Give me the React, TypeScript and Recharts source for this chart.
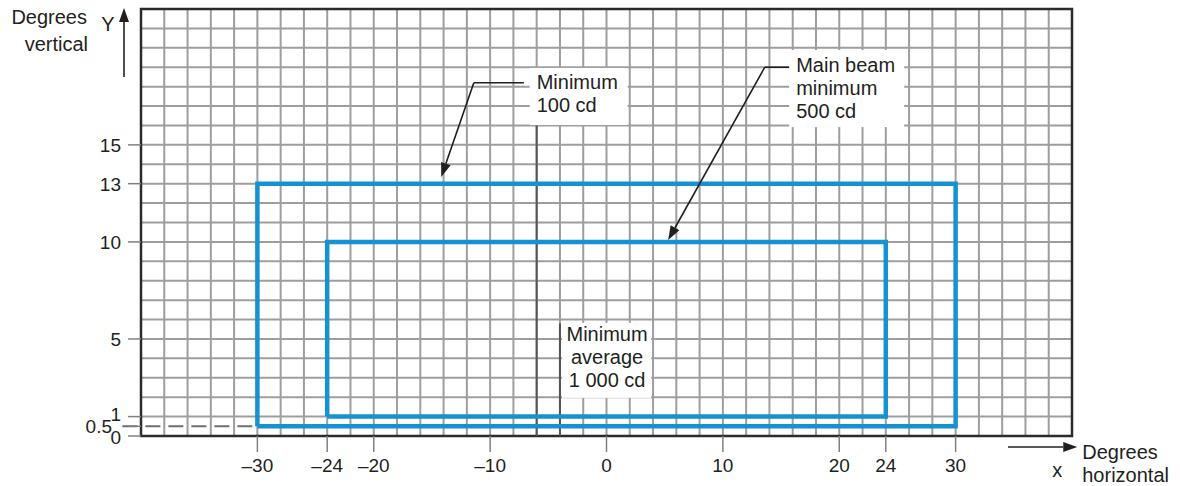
import React from 'react'
import {
  ComposedChart, Line, XAxis, YAxis, CartesianGrid,
  ReferenceLine, ReferenceDot, ReferenceArea,
} from 'recharts'

// ─── Tokens ──────────────────────────────────────────────────────────────────
const FONT = '"Liberation Sans", Arial, sans-serif'
const INK = '#231f20'
const BLUE = '#1592d1'
const GRID = '#9e9e9e'
const DARK = '#555555'

// ─── Data ────────────────────────────────────────────────────────────────────
const X_DOMAIN = [-40, 40]
const Y_DOMAIN = [0, 22]
const X_TICKS = [-30, -24, -20, -10, 0, 10, 20, 24, 30]
const Y_TICKS = [0, 0.5, 1, 5, 10, 13, 15]

// grid every 2° horizontally, every 1° vertically
const X_GRID = Array.from({ length: 39 }, (_, i) => -38 + i * 2)
const Y_GRID = Array.from({ length: 21 }, (_, i) => 1 + i)

// zones (closed outlines)
const OUTER_ZONE = [
  { x: -30, y: 0.5 }, { x: -30, y: 13 }, { x: 30, y: 13 }, { x: 30, y: 0.5 }, { x: -30, y: 0.5 },
]
const INNER_ZONE = [
  { x: -24, y: 1 }, { x: -24, y: 10 }, { x: 24, y: 10 }, { x: 24, y: 1 }, { x: -24, y: 1 },
]

// darker reference verticals
const MARKERS = [
  { x: -6, top: 16 },
  { x: -4, top: 5.8 },
]

// leader lines: last segment ends in an arrowhead
const LEADERS = [
  [{ x: -7.1, y: 18.2 }, { x: -11.4, y: 18.2 }, { x: -14.2, y: 13.35 }],
  [{ x: 16.2, y: 19.0 }, { x: 13.6, y: 19.0 }, { x: 5.3, y: 10.1 }],
]

const NOTES = [
  { x: -6, y: 17.88, lines: ['Minimum', '100 cd'], anchor: 'start', box: [-7, -21, 98, 57] },
  { x: 16.3, y: 18.75, lines: ['Main beam', 'minimum', '500 cd'], anchor: 'start', box: [-7, -22, 115, 77] },
  { x: 0.05, y: 4.9, lines: ['Minimum', 'average', '1 000 cd'], anchor: 'middle', box: [-45, -18, 89, 75] },
]

const fmtX = (v: number) => (v < 0 ? '\u2013' + Math.abs(v) : String(v))

// ─── Shapes ──────────────────────────────────────────────────────────────────
function ArrowShape(p: any) {
  const { x1, y1, x2, y2 } = p
  const a = Math.atan2(y2 - y1, x2 - x1)
  const L = 14, W = 5
  const bx = x2 - L * Math.cos(a)
  const by = y2 - L * Math.sin(a)
  const pts = `${x2},${y2} ${bx + W * Math.sin(a)},${by - W * Math.cos(a)} ${bx - W * Math.sin(a)},${by + W * Math.cos(a)}`
  return (
    <g>
      <line x1={x1} y1={y1} x2={bx} y2={by} stroke={INK} strokeWidth={1.6} />
      <polygon points={pts} fill={INK} />
    </g>
  )
}

function PlainSeg(p: any) {
  return <line x1={p.x1} y1={p.y1} x2={p.x2} y2={p.y2} stroke={INK} strokeWidth={1.6} />
}

const noteShape = (n: typeof NOTES[number]) => (p: any) => {
  const { cx, cy } = p
  const [bx, by, bw, bh] = n.box
  return (
    <g>
      <rect x={cx + bx} y={cy + by} width={bw} height={bh} fill="#fff" />
      {n.lines.map((t, i) => (
        <text key={i} x={cx} y={cy + i * 23} textAnchor={n.anchor as any} fill={INK} fontSize={20} fontFamily={FONT}>{t}</text>
      ))}
    </g>
  )
}

function YTitle(p: any) {
  const { cx, cy } = p
  return (
    <g fontFamily={FONT} fontSize={20} fill={INK}>
      <text x={cx - 37} y={cy + 16} textAnchor="end">Degrees</text>
      <text x={cx - 36} y={cy + 43} textAnchor="end">vertical</text>
      <text x={cx - 16} y={cy + 23} textAnchor="middle">Y</text>
    </g>
  )
}

function XTitle(p: any) {
  const { cx, cy } = p
  return (
    <g fontFamily={FONT} fontSize={20} fill={INK}>
      <text x={cx + 5} y={cy + 12}>Degrees</text>
      <text x={cx + 5} y={cy + 35}>horizontal</text>
      <text x={cx - 20} y={cy + 30} textAnchor="middle">x</text>
    </g>
  )
}

function XTick({ x, y, payload }: any) {
  return (
    <text x={x} y={y + 16} textAnchor="middle" fill={INK} fontSize={19} fontFamily={FONT}>
      {fmtX(payload.value)}
    </text>
  )
}

function YTick({ x, y, payload }: any) {
  const v = payload.value
  let dx = 0, dy = 0
  if (v === 1) dy = -3
  if (v === 0) dy = 1
  if (v === 0.5) dx = -9
  return (
    <text x={x + dx} y={y + dy + 7} textAnchor="end" fill={INK} fontSize={19} fontFamily={FONT}>
      {v}
    </text>
  )
}

export default function App() {
  return (
    <div style={{ width: 1180, height: 486, background: '#fff' }}>
      <style>{'body{margin:0}'}</style>
      <ComposedChart width={1180} height={486} margin={{ top: 9, right: 108, left: 0, bottom: 0 }}>
        <CartesianGrid verticalValues={X_GRID} horizontalValues={Y_GRID} stroke={GRID} strokeWidth={2} />
        <XAxis type="number" dataKey="x" domain={X_DOMAIN} allowDataOverflow ticks={X_TICKS} interval={0}
          height={50} axisLine={false} tickSize={16} tickMargin={4}
          tickLine={{ stroke: '#808080', strokeWidth: 1.5 }} tick={<XTick />} />
        <YAxis type="number" dataKey="y" domain={Y_DOMAIN} allowDataOverflow ticks={Y_TICKS} interval={0}
          width={141} axisLine={false} tickSize={13} tickMargin={7}
          tickLine={{ stroke: '#808080', strokeWidth: 1.5 }} tick={<YTick />} />

        {/* plot border */}
        <ReferenceArea x1={X_DOMAIN[0]} x2={X_DOMAIN[1]} y1={Y_DOMAIN[0]} y2={Y_DOMAIN[1]}
          fill="none" fillOpacity={0} stroke="#2b2b2b" strokeWidth={2.5} strokeOpacity={1} ifOverflow="visible" />

        {/* dashed 0.5° line */}
        <ReferenceLine segment={[{ x: -41.6, y: 0.5 }, { x: -30, y: 0.5 }]} stroke="#6e6e6e" strokeWidth={2}
          strokeDasharray="15 8" ifOverflow="visible" />

        {MARKERS.map((m, i) => (
          <ReferenceLine key={'m' + i} segment={[{ x: m.x, y: 0 }, { x: m.x, y: m.top }]} stroke={DARK} strokeWidth={2} />
        ))}

        <Line data={OUTER_ZONE} dataKey="y" type="linear" stroke={BLUE} strokeWidth={4.5} dot={false}
          isAnimationActive={false} strokeLinejoin="miter" />
        <Line data={INNER_ZONE} dataKey="y" type="linear" stroke={BLUE} strokeWidth={4.5} dot={false}
          isAnimationActive={false} strokeLinejoin="miter" />

        {NOTES.map((n, i) => (
          <ReferenceDot key={'n' + i} x={n.x} y={n.y} r={0} shape={noteShape(n)} ifOverflow="visible" />
        ))}

        {LEADERS.map((pts, i) =>
          pts.slice(1).map((p, j) => (
            <ReferenceLine key={`l${i}-${j}`} segment={[pts[j], p]} ifOverflow="visible"
              shape={j === pts.length - 2 ? ArrowShape : PlainSeg} />
          ))
        )}

        {/* axis arrows */}
        <ReferenceLine segment={[{ x: -41.46, y: 18.5 }, { x: -41.46, y: 22.05 }]} ifOverflow="visible" shape={ArrowShape} />
        <ReferenceLine segment={[{ x: 34.5, y: -0.57 }, { x: 40.45, y: -0.57 }]} ifOverflow="visible" shape={ArrowShape} />
        <ReferenceDot x={-41.46} y={22.05} r={0} shape={YTitle} ifOverflow="visible" />
        <ReferenceDot x={40.45} y={-0.57} r={0} shape={XTitle} ifOverflow="visible" />
      </ComposedChart>
    </div>
  )
}
